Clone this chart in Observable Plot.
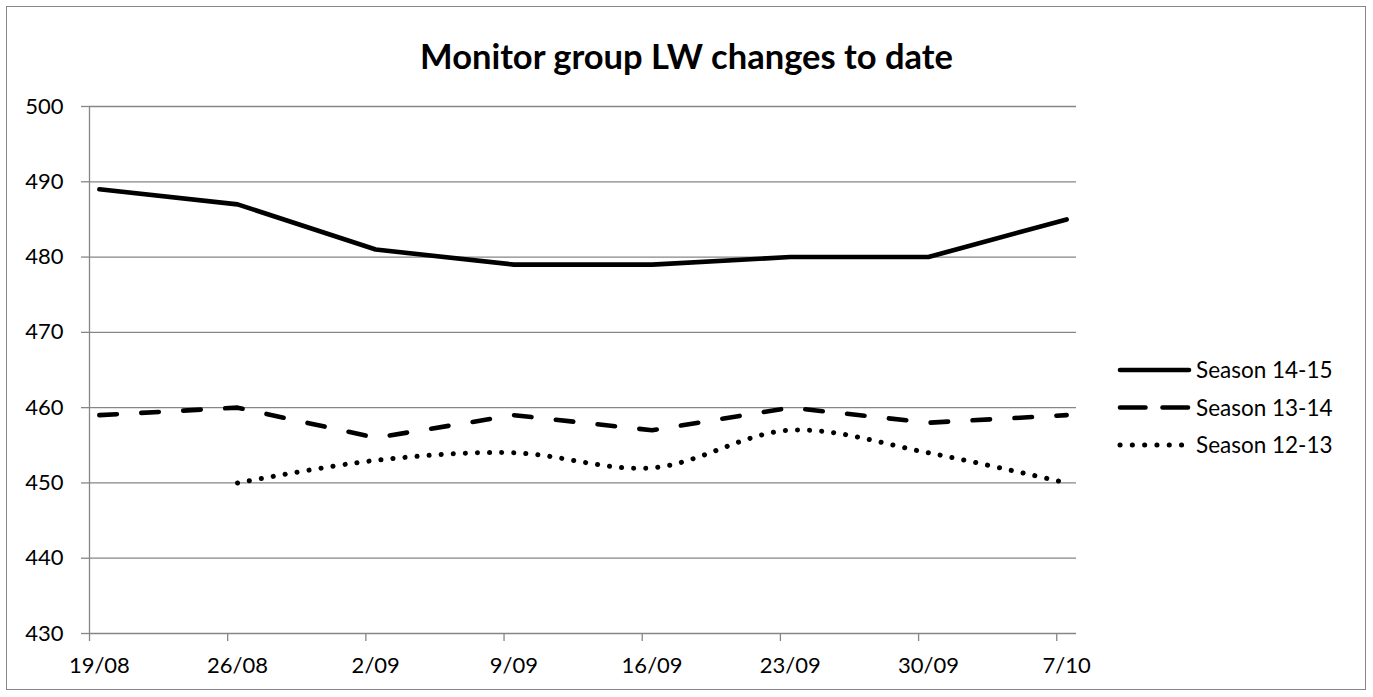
<!DOCTYPE html>
<html><head><meta charset="utf-8">
<script src="https://cdn.jsdelivr.net/npm/d3@7"></script>
<script src="https://cdn.jsdelivr.net/npm/@observablehq/plot@0.6"></script>
<style>
body{margin:0;background:#fff;}
#wrap{position:relative;width:1373px;height:697px;font-family:Lato,"Open Sans",sans-serif;overflow:hidden;}
#frame{position:absolute;left:6px;top:6px;width:1358px;height:682px;border:1.5px solid #878787;}
#chart{position:absolute;left:0;top:0;}
#title{position:absolute;left:0;width:1373px;top:36px;line-height:40px;text-align:center;font-weight:bold;font-size:34.5px;color:#000;white-space:nowrap;}
#legend{position:absolute;left:1110px;top:350px;}
</style></head><body>
<div id="wrap"><div id="frame"></div><div id="chart"></div><div id="title">Monitor group LW changes to date</div><div id="legend"></div></div>
<script>
const weeks = ["2014-08-19","2014-08-26","2014-09-02","2014-09-09","2014-09-16","2014-09-23","2014-09-30","2014-10-07"];
const season1415 = [489,487,481,479,479,480,480,485];
const season1314 = [459,460,456,459,457,460,458,459];
const season1213 = [null,450,453,454,452,457,454,450];
const seriesNames = ["Season 14-15","Season 13-14","Season 12-13"];
const yTicks = [430,440,450,460,470,480,490,500];

const allSeries = [season1415, season1314, season1213];
const half = 12*3600*1000;            // Excel date axis: a point sits in the middle of its day
const rows = [];
weeks.forEach((w,i)=>{ allSeries.forEach((s,j)=>{ if(s[i]!=null) rows.push({date:new Date(w), value:s[i], series:seriesNames[j]}); }); });
const xDomain = [new Date("2014-08-19"), new Date("2014-10-08")];
const weekDates = weeks.map(w => new Date(w));
const weekMids = weekDates.map(d => new Date(+d + half));
const fmt = d => { const s = new Date(+d - half); return s.getUTCDate() + "/" + String(s.getUTCMonth()+1).padStart(2,"0"); };
const styles = {
  "Season 14-15": {strokeDasharray:null, curve:"linear"},
  "Season 13-14": {strokeDasharray:"17.5,24.5", curve:"linear"},
  "Season 12-13": {strokeDasharray:"0.1,12", curve:"catmull-rom"}
};
const lineMarks = seriesNames.map(name => Plot.line(rows.filter(r=>r.series===name), {
  x: d => new Date(+d.date + half), y: "value", stroke: "#000",
  strokeWidth: name === "Season 12-13" ? 5 : 4.6,
  strokeLinecap: "round", strokeLinejoin: "round",
  strokeDasharray: styles[name].strokeDasharray, curve: styles[name].curve
}));
const font = 'Lato, "Open Sans", sans-serif';

const chart = Plot.plot({
  width: 1373, height: 697,
  marginLeft: 89, marginRight: 297, marginTop: 106, marginBottom: 64,
  style: {fontFamily: font, fontSize: "22px", color: "#000", background: "transparent"},
  x: {type: "utc", domain: xDomain},
  y: {domain: [430, 500]},
  marks: [
    Plot.ruleY(yTicks, {stroke: "#868686", strokeWidth: 1.3}),
    Plot.ruleX([xDomain[0]], {stroke: "#868686", strokeWidth: 1.3}),
    Plot.axisY({ticks: yTicks, tickSize: 8, tickPadding: 18, label: null, stroke: "#868686", strokeOpacity: 1, strokeWidth: 1.3, fill: "#000", tickFormat: d => String(d)}),
    Plot.axisX({ticks: weekDates, tickSize: 8, label: null, stroke: "#868686", strokeOpacity: 1, strokeWidth: 1.3, tickFormat: () => ""}),
    Plot.axisX({ticks: weekMids, tickSize: 0, tickPadding: 24, label: null, fill: "#000", tickFormat: fmt}),
    ...lineMarks
  ]
});
document.getElementById("chart").appendChild(chart);

// legend
const lg = d3.select("#legend").append("svg").attr("width", 263).attr("height", 110)
  .style("font-family", font).style("font-size", "22.5px");
const legendDash = {"Season 14-15": null, "Season 13-14": "25.5,17", "Season 12-13": "0.1,12.2"};
seriesNames.forEach((name, i) => {
  const cy = 20 + i * 37.5;
  lg.append("line").attr("x1", 10).attr("x2", 79).attr("y1", cy).attr("y2", cy)
    .attr("stroke", "#000").attr("stroke-width", name === "Season 12-13" ? 5 : 4.6).attr("stroke-linecap", "round")
    .attr("stroke-dasharray", legendDash[name]);
  lg.append("text").attr("x", 86).attr("y", cy).attr("dy", "0.36em").attr("fill", "#000").text(name);
});
</script>
</body></html>
